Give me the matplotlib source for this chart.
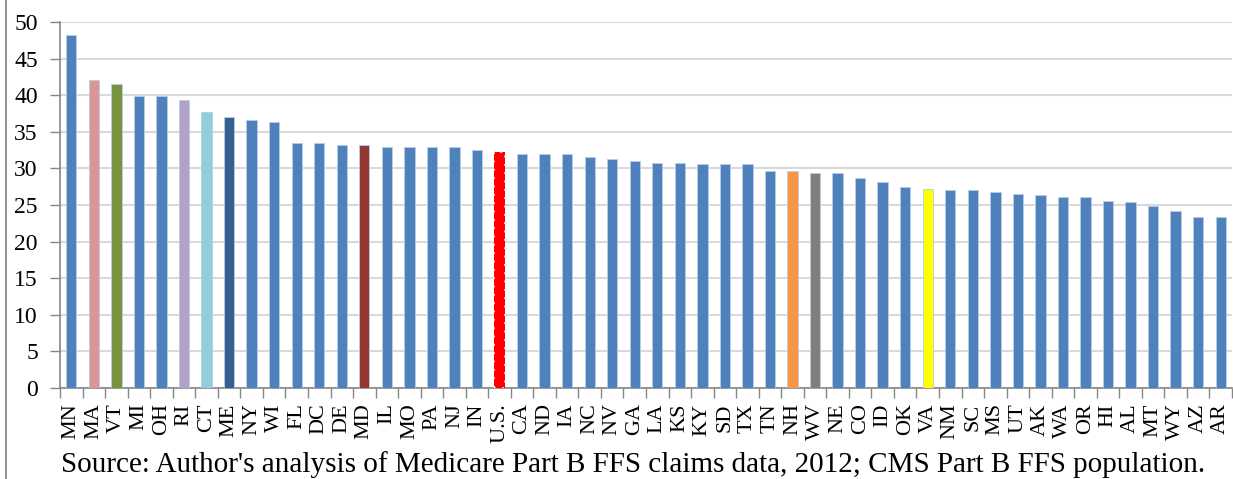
import matplotlib
matplotlib.use("Agg")
import matplotlib.pyplot as plt
from matplotlib.lines import Line2D

states = ["MN", "MA", "VT", "MI", "OH", "RI", "CT", "ME", "NY", "WI", "FL", "DC", "DE", "MD",
          "IL", "MO", "PA", "NJ", "IN", "U.S.", "CA", "ND", "IA", "NC", "NV", "GA", "LA", "KS",
          "KY", "SD", "TX", "TN", "NH", "WV", "NE", "CO", "ID", "OK", "VA", "NM", "SC", "MS",
          "UT", "AK", "WA", "OR", "HI", "AL", "MT", "WY", "AZ", "AR"]
values = [48.2, 42.1, 41.6, 39.9, 39.9, 39.4, 37.7, 37.05, 36.6, 36.3, 33.45, 33.45, 33.2, 33.2,
          32.95, 32.95, 32.95, 32.95, 32.5, 32.25, 32.0, 32.0, 32.0, 31.5, 31.3, 31.0, 30.8, 30.8,
          30.6, 30.6, 30.6, 29.65, 29.65, 29.4, 29.4, 28.65, 28.2, 27.5, 27.25, 27.0, 27.0, 26.8,
          26.5, 26.3, 26.05, 26.05, 25.6, 25.35, 24.9, 24.2, 23.4, 23.4]
highlight = {"MA": "#D99694", "VT": "#77933C", "RI": "#B3A2C7", "CT": "#92CDDC",
             "ME": "#376092", "MD": "#953735", "U.S.": "#FF0000", "NH": "#F79646",
             "WV": "#7F7F7F", "VA": "#FFFF00"}
default_color = "#4F81BD"
yticks = list(range(0, 51, 5))
source = "Source: Author's analysis of Medicare Part B FFS claims data, 2012; CMS Part B FFS population."

plt.rcParams["font.family"] = ["Liberation Serif", "DejaVu Serif"]

fig = plt.figure(figsize=(12.33, 4.79), dpi=100)
ax = fig.add_axes([0.0487, 0.19, 0.9505, 0.764])

x = list(range(len(states)))
colors = [highlight.get(s, default_color) for s in states]
bars = ax.bar(x, values, width=0.46, color=colors, edgecolor="#B9CDE5", linewidth=0.6, zorder=3)
us_i = states.index("U.S.")
bars[us_i].set_edgecolor("white")
bars[us_i].set_linestyle((0, (1, 4)))
bars[us_i].set_linewidth(1.2)

ax.set_xlim(-0.5, len(states) - 0.5)
ax.set_ylim(0, 50)
ax.set_yticks(yticks)
ax.set_yticklabels([str(t) for t in yticks], fontsize=17)
ax.yaxis.grid(True, color="#D9D9D9", linewidth=1.5, zorder=0)
ax.set_axisbelow(True)

ax.set_xticks(x)
ax.set_xticklabels(states, rotation=90, fontsize=16, va="top", ha="center")
ax.set_xticks([i + 0.5 for i in range(-1, len(states))], minor=True)
ax.tick_params(axis="x", which="major", length=0, pad=11)
ax.tick_params(axis="x", which="minor", length=7, color="#868686", width=1)
ax.tick_params(axis="y", length=7, color="#868686", width=1, pad=9)

for side in ["top", "right"]:
    ax.spines[side].set_visible(False)
for side in ["left", "bottom"]:
    ax.spines[side].set_color("#868686")
    ax.spines[side].set_linewidth(1.2)

fig.text(0.0495, 1 - 472 / 479, source, fontsize=21, ha="left", va="baseline")
fig.add_artist(Line2D([6 / 1233, 6 / 1233], [0, 1], transform=fig.transFigure,
                      color="#7F7F7F", linewidth=1.2))

fig.savefig("out.png", dpi=100)
